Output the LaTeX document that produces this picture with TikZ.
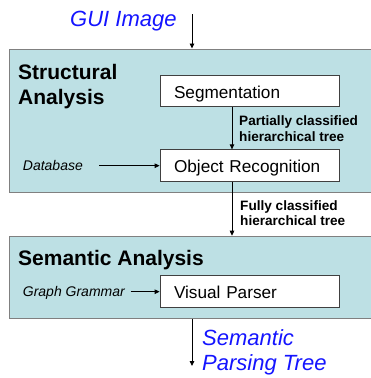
\documentclass[tikz,border=0pt]{standalone}
\usepackage{fontspec}
\setmainfont{Liberation Sans}
\usetikzlibrary{arrows.meta}
\definecolor{panel}{RGB}{189,224,228}
\definecolor{panelline}{RGB}{128,128,128}
\definecolor{titleblue}{RGB}{20,20,255}
\tikzset{
  bigbox/.style={draw=panelline, fill=panel, line width=1pt, inner sep=0pt, anchor=north west, minimum width=380pt},
  stepbox/.style={draw=black!75, fill=white, line width=0.8pt, minimum width=179pt, minimum height=31.5pt,
     text width=151pt, inner xsep=14pt, inner ysep=0pt, align=left, text height=14pt, text depth=0pt,
     font=\fontsize{17.2}{20}\selectfont},
  heading/.style={anchor=base west, inner sep=0pt, font=\fontsize{21}{25}\selectfont\bfseries},
  edgelabel/.style={anchor=base west, inner sep=0pt, font=\fontsize{13.6}{16}\selectfont\bfseries},
  inputlabel/.style={anchor=base west, inner sep=0pt, font=\fontsize{14}{16}\selectfont\itshape},
  iolabel/.style={anchor=base west, inner sep=0pt, text=titleblue, font=\fontsize{22}{26}\selectfont\itshape},
  arr/.style={-{Triangle[length=5pt,width=4.5pt]}, line width=0.9pt}
}
\begin{document}
\begin{tikzpicture}[x=1pt,y=-1pt]
\useasboundingbox (0,0) rectangle (371,378);
\clip (0,0) rectangle (371,378);
% panels
\node[bigbox, minimum height=143.2pt] (box1) at (9,48.5) {};
\node[bigbox, minimum height=82.6pt] (box2) at (9,235.7) {};
% headings
\node[heading] (h1a) at (18,79.3) {Structural};
\node[heading] (h1b) at (18,104) {Analysis};
\node[heading] (h2) at (18,265.7) {Semantic Analysis};
% step boxes
\node[stepbox] (seg) at (249.5,91) {Segmentation};
\node[stepbox] (obj) at (249.5,165.5) {Object Recognition};
\node[stepbox] (vp) at (249.5,291.5) {Visual Parser};
% io labels
\node[iolabel] (gui) at (70,26) {GUI Image};
\node[iolabel] (sem1) at (202,345) {Semantic};
\node[iolabel] (sem2) at (202,370.5) {Parsing Tree};
% edge labels
\node[edgelabel] (p1) at (239,125.7) {Partially classified};
\node[edgelabel] (p2) at (239,141.7) {hierarchical tree};
\node[edgelabel] (f1) at (240,210.7) {Fully classified};
\node[edgelabel] (f2) at (240,225.7) {hierarchical tree};
% input labels
\node[inputlabel] (db) at (22.7,170.7) {Database};
\node[inputlabel] (gg) at (22.7,296) {Graph Grammar};
% coordinates
\coordinate (gin) at (192,14);
\coordinate (gout) at (192,366);
\coordinate (ax) at (232,0);
\coordinate (dbs) at (99,165.7);
\coordinate (ggs) at (130.7,291.7);
% connectors
\draw[arr] (gin) -- (gin |- box1.north);
\draw[arr] (seg.south -| ax) -- (obj.north -| ax);
\draw[arr] (obj.south -| ax) -- (box2.north -| ax);
\draw[arr] (dbs) -- (dbs -| obj.west);
\draw[arr] (ggs) -- (ggs -| vp.west);
\draw[arr] (box2.south -| gin) -- (gout);
\end{tikzpicture}
\end{document}
